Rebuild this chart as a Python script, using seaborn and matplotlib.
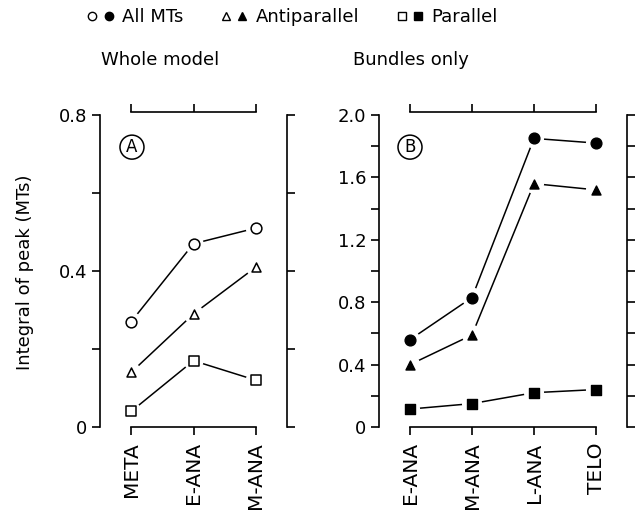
import numpy as np
import pandas as pd
import matplotlib
matplotlib.use("Agg")
import matplotlib.pyplot as plt
import seaborn as sns
from matplotlib.lines import Line2D
from matplotlib.legend_handler import HandlerTuple

stages_a = ["META", "E-ANA", "M-ANA"]
all_a = [0.27, 0.47, 0.51]
anti_a = [0.14, 0.29, 0.41]
par_a = [0.04, 0.17, 0.12]

stages_b = ["E-ANA", "M-ANA", "L-ANA", "TELO"]
all_b = [0.56, 0.83, 1.85, 1.82]
anti_b = [0.40, 0.59, 1.56, 1.52]
par_b = [0.115, 0.15, 0.22, 0.24]

series_names = ["All MTs", "Antiparallel", "Parallel"]
marker_map = {"All MTs": "o", "Antiparallel": "^", "Parallel": "s"}
size_map = {"All MTs": 60, "Antiparallel": 42, "Parallel": 55}

sns.set_theme(style="white")
plt.rcParams["font.family"] = ["DejaVu Sans"]
plt.rcParams["font.size"] = 13
plt.rcParams["text.color"] = "black"
plt.rcParams["xtick.color"] = "black"
plt.rcParams["ytick.color"] = "black"
plt.rcParams["axes.labelcolor"] = "black"

def make_df(stages, a, b, c):
    rows = []
    for name, vals in zip(series_names, [a, b, c]):
        for i, v in enumerate(vals):
            rows.append({"x": i, "stage": stages[i], "value": v, "series": name})
    return pd.DataFrame(rows)

fig = plt.figure(figsize=(6.39, 5.29), dpi=100)
H = 529.0
W = 639.0
axA = fig.add_axes([100 / W, 1 - 427 / H, 187 / W, 312 / H])
axB = fig.add_axes([379 / W, 1 - 427 / H, 248 / W, 312 / H])

def draw(ax, df, stages, ymax, filled, yticklabels):
    sns.lineplot(data=df, x="x", y="value", units="series", estimator=None,
                 color="black", lw=1.1, ax=ax, legend=False, zorder=2)
    for name in series_names:
        sub = df[df["series"] == name]
        sns.scatterplot(data=sub, x="x", y="value", marker="o", s=210,
                        color="white", edgecolor="none", ax=ax, legend=False, zorder=3)
    for name in series_names:
        sub = df[df["series"] == name]
        if filled:
            sns.scatterplot(data=sub, x="x", y="value", marker=marker_map[name],
                            s=size_map[name], color="black", edgecolor="black",
                            linewidth=1.0, ax=ax, legend=False, zorder=4)
        else:
            sns.scatterplot(data=sub, x="x", y="value", marker=marker_map[name],
                            s=size_map[name], color="white", edgecolor="black",
                            linewidth=1.1, ax=ax, legend=False, zorder=4)
    n = len(stages)
    ax.set_xlim(-0.5, n - 0.5)
    ax.set_ylim(0, ymax)
    ax.set_xlabel("")
    ax.set_ylabel("")
    for side in ["left", "right", "top", "bottom"]:
        ax.spines[side].set_visible(True)
        ax.spines[side].set_color("black")
        ax.spines[side].set_linewidth(1.2)
    ax.spines["left"].set_bounds(0, ymax)
    ax.spines["right"].set_bounds(0, ymax)
    ax.spines["bottom"].set_bounds(0, n - 1)
    ax.spines["top"].set_bounds(0, n - 1)
    ax.spines["top"].set_position(("outward", 2))
    ax.tick_params(axis="both", direction="out", length=6, width=1.2, color="black",
                   top=True, right=True, bottom=True, left=True,
                   labeltop=False, labelright=False, pad=3, labelcolor="black")
    ax.set_xticks(range(n))
    ax.set_xticklabels(stages, fontsize=14.5, color="black")
    ax.tick_params(axis="x", labelrotation=90, pad=5)
    yt = np.round(np.arange(0, ymax + 0.001, 0.2), 1)
    ax.set_yticks(yt)
    ax.set_yticklabels(yticklabels, fontsize=13, color="black")
    ax.grid(False)
    ax.set_facecolor("white")

dfA = make_df(stages_a, all_a, anti_a, par_a)
dfB = make_df(stages_b, all_b, anti_b, par_b)
draw(axA, dfA, stages_a, 0.8, False, ["0", "", "0.4", "", "0.8"])
draw(axB, dfB, stages_b, 2.0, True,
     ["0", "", "0.4", "", "0.8", "", "1.2", "", "1.6", "", "2.0"])

circ = dict(boxstyle="circle,pad=0.18", fc="white", ec="black", lw=1.1)
axA.text(0.171, 0.897, "A", transform=axA.transAxes, ha="center", va="center",
         fontsize=12, bbox=circ)
axB.text(0.125, 0.897, "B", transform=axB.transAxes, ha="center", va="center",
         fontsize=12, bbox=circ)

fig.text(25 / W, 1 - 272 / H, "Integral of peak (MTs)", rotation=90,
         ha="center", va="center", fontsize=13)
fig.text(160 / W, 1 - 60 / H, "Whole model", ha="center", va="center", fontsize=13)
fig.text(411 / W, 1 - 60 / H, "Bundles only", ha="center", va="center", fontsize=13)

def mk(m, filled):
    return Line2D([], [], linestyle="none", marker=m, markersize=6,
                  markerfacecolor="black" if filled else "white",
                  markeredgecolor="black", markeredgewidth=1.0)

handles = [(mk("o", False), mk("o", True)),
           (mk("^", False), mk("^", True)),
           (mk("s", False), mk("s", True))]
fig.legend(handles, series_names, handler_map={tuple: HandlerTuple(ndivide=None, pad=0.2)},
           loc="center", bbox_to_anchor=(292 / W, 1 - 17 / H), ncol=3, frameon=False,
           handlelength=1.6, handletextpad=0.4, columnspacing=2.0, fontsize=13)

fig.savefig("out.png", dpi=100, facecolor="white")
